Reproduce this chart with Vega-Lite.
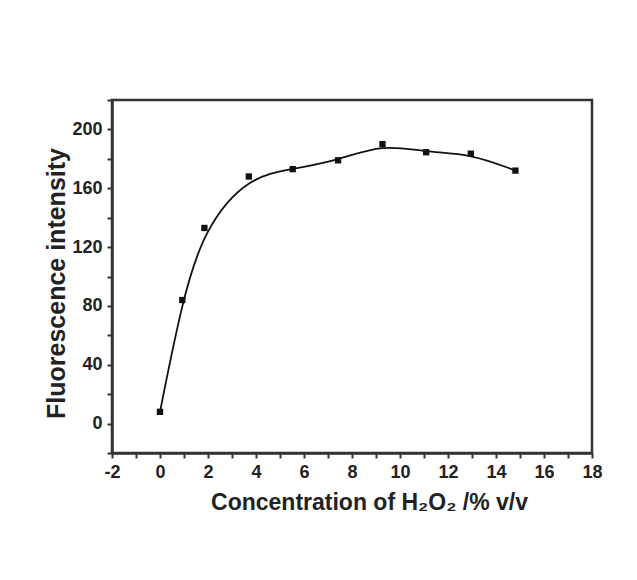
{
  "$schema": "https://vega.github.io/schema/vega-lite/v6.json",
  "width": 480,
  "height": 353,
  "autosize": "none",
  "padding": {"left": 112, "top": 100, "right": 45, "bottom": 127},
  "background": "white",
  "config": {
    "view": {"stroke": "#333333", "strokeWidth": 2.5},
    "font": "Liberation Sans"
  },
  "data": {
    "values": [
      {"conc": 0, "fl": 8},
      {"conc": 0.93, "fl": 84},
      {"conc": 1.85, "fl": 133},
      {"conc": 3.7, "fl": 168},
      {"conc": 5.53, "fl": 173},
      {"conc": 7.42, "fl": 179},
      {"conc": 9.27, "fl": 190},
      {"conc": 11.09, "fl": 184.5},
      {"conc": 12.95, "fl": 183.5},
      {"conc": 14.81, "fl": 172}
    ]
  },
  "encoding": {
    "x": {
      "field": "conc",
      "type": "quantitative",
      "scale": {"domain": [-2, 18], "nice": false, "zero": false},
      "axis": {
        "title": "Concentration of H₂O₂ /% v/v",
        "titleFont": "Liberation Sans",
        "titleFontSize": 23,
        "titleFontWeight": "bold",
        "titleColor": "#222222",
        "titlePadding": 10,
        "titleX": 257,
        "values": [-2, -1, 0, 1, 2, 3, 4, 5, 6, 7, 8, 9, 10, 11, 12, 13, 14, 15, 16, 17, 18],
        "labelExpr": "datum.value % 2 === 0 ? toString(datum.value) : ''",
        "labelFontSize": 18,
        "labelFontWeight": "bold",
        "labelColor": "#222222",
        "labelPadding": 5,
        "labelFlush": false,
        "labelOverlap": false,
        "grid": false,
        "domainColor": "#333333",
        "domainWidth": 2.5,
        "tickColor": "#333333",
        "tickWidth": 2,
        "tickSize": 5,
        "encode": {
          "ticks": {
            "update": {
              "y": [{"test": "datum.value % 2 === 0", "value": -5}, {"value": 0}],
              "y2": [{"test": "datum.value % 2 === 0", "value": 5}, {"value": 3}]
            }
          }
        }
      }
    },
    "y": {
      "field": "fl",
      "type": "quantitative",
      "scale": {"domain": [-20, 220], "nice": false, "zero": false},
      "axis": {
        "title": "Fluorescence  intensity",
        "titleFont": "Liberation Sans",
        "titleFontSize": 25,
        "titleFontWeight": "bold",
        "titleColor": "#222222",
        "titlePadding": 2,
        "titleY": 183,
        "values": [-20, 0, 20, 40, 60, 80, 100, 120, 140, 160, 180, 200, 220],
        "labelExpr": "datum.value % 40 === 0 ? toString(datum.value) : ''",
        "labelFontSize": 18,
        "labelFontWeight": "bold",
        "labelColor": "#222222",
        "labelPadding": 5,
        "labelOverlap": false,
        "labelFlush": false,
        "grid": false,
        "domainColor": "#333333",
        "domainWidth": 2.5,
        "tickColor": "#333333",
        "tickWidth": 2,
        "tickSize": 5,
        "encode": {
          "ticks": {
            "update": {
              "x": [{"test": "datum.value % 40 === 0", "value": 5}, {"value": 0}],
              "x2": [{"test": "datum.value % 40 === 0", "value": -5}, {"value": -3}]
            }
          }
        }
      }
    }
  },
  "layer": [
    {
      "mark": {"type": "line", "interpolate": "basis", "color": "#111111", "strokeWidth": 1.8}
    },
    {
      "mark": {"type": "square", "color": "#111111", "filled": true, "size": 40, "opacity": 1}
    }
  ]
}
